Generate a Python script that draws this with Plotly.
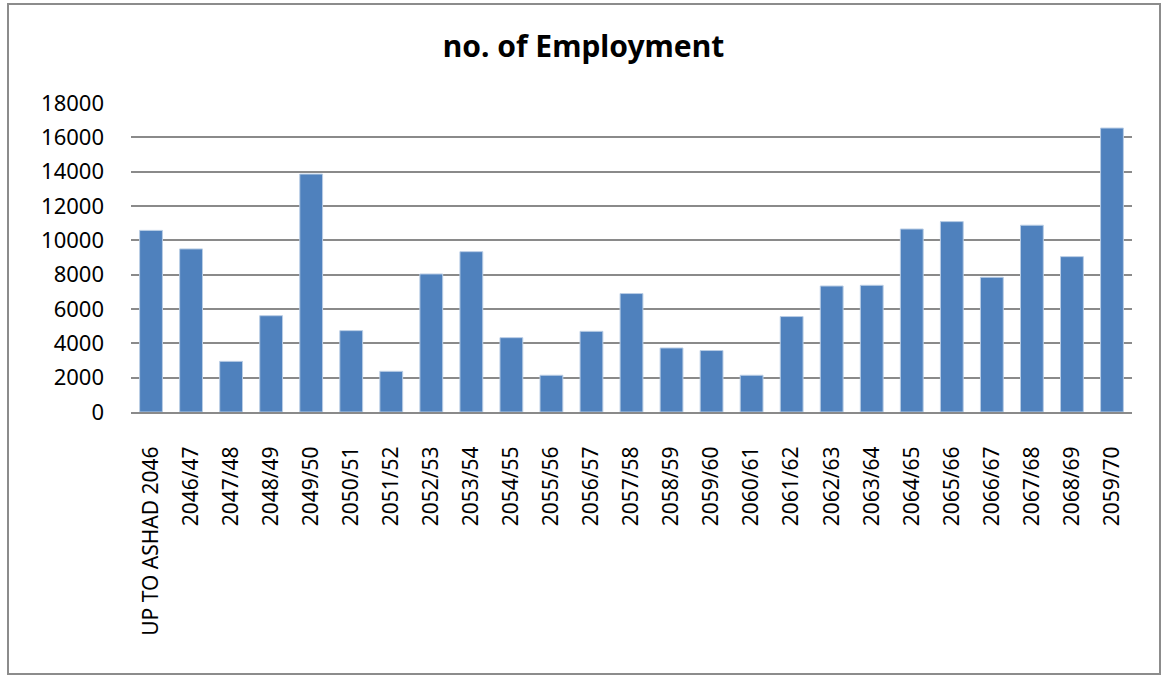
import plotly.graph_objects as go

categories = ["UP TO ASHAD 2046", "2046/47", "2047/48", "2048/49", "2049/50", "2050/51",
              "2051/52", "2052/53", "2053/54", "2054/55", "2055/56", "2056/57", "2057/58",
              "2058/59", "2059/60", "2060/61", "2061/62", "2062/63", "2063/64", "2064/65",
              "2065/66", "2066/67", "2067/68", "2068/69", "2059/70"]
employment = [10580, 9500, 2950, 5610, 13860, 4740, 2370, 8040, 9340, 4330, 2140, 4700, 6900,
              3730, 3580, 2140, 5560, 7340, 7380, 10660, 11090, 7850, 10880, 9050, 16540]
y_ticks = [0, 2000, 4000, 6000, 8000, 10000, 12000, 14000, 16000, 18000]
y_tick_labels = ["0", "2000", "4000", "6000", "8000", "10000", "12000", "14000", "16000", "18000"]

W, H = 1167, 675
ml, mr, mt, mb = 131, 35, 103, 263
pw, ph = W - ml - mr, H - mt - mb

def px_x(x):
    return (x - ml) / pw

def px_y(y):
    return (H - mb - y) / ph

font = "Noto Sans"

fig = go.Figure(go.Bar(
    x=categories, y=employment,
    marker=dict(color="#4F81BD", line=dict(color="#B9CDE5", width=1)),
))

fig.update_layout(
    width=W, height=H,
    margin=dict(l=ml, r=mr, t=mt, b=mb),
    paper_bgcolor="white", plot_bgcolor="white",
    bargap=0.43,
    showlegend=False,
    title=dict(text="<b>no. of Employment</b>", x=0.5, xanchor="center",
               y=1 - 46 / H, yanchor="middle",
               font=dict(family=font, size=30, color="black")),
    font=dict(family=font, color="black"),
    shapes=[dict(type="rect", xref="paper", yref="paper",
                 x0=px_x(8), x1=px_x(1160), y0=px_y(674), y1=px_y(4),
                 line=dict(color="#8C8C8C", width=2), fillcolor="rgba(0,0,0,0)",
                 layer="below")],
)
fig.update_yaxes(range=[0, 18000], tickvals=y_ticks, ticktext=y_tick_labels, showgrid=True,
                 gridcolor="#8A8A8A", gridwidth=1.5, zeroline=False, showline=False,
                 ticks="", ticklabelstandoff=26,
                 tickfont=dict(family=font, size=22, color="black"))
fig.update_xaxes(type="category", tickangle=-90, showline=True, linecolor="#8A8A8A",
                 linewidth=2, ticks="", ticklabelstandoff=24,
                 tickfont=dict(family=font, size=21, color="black"))

fig.write_html("out.html")
